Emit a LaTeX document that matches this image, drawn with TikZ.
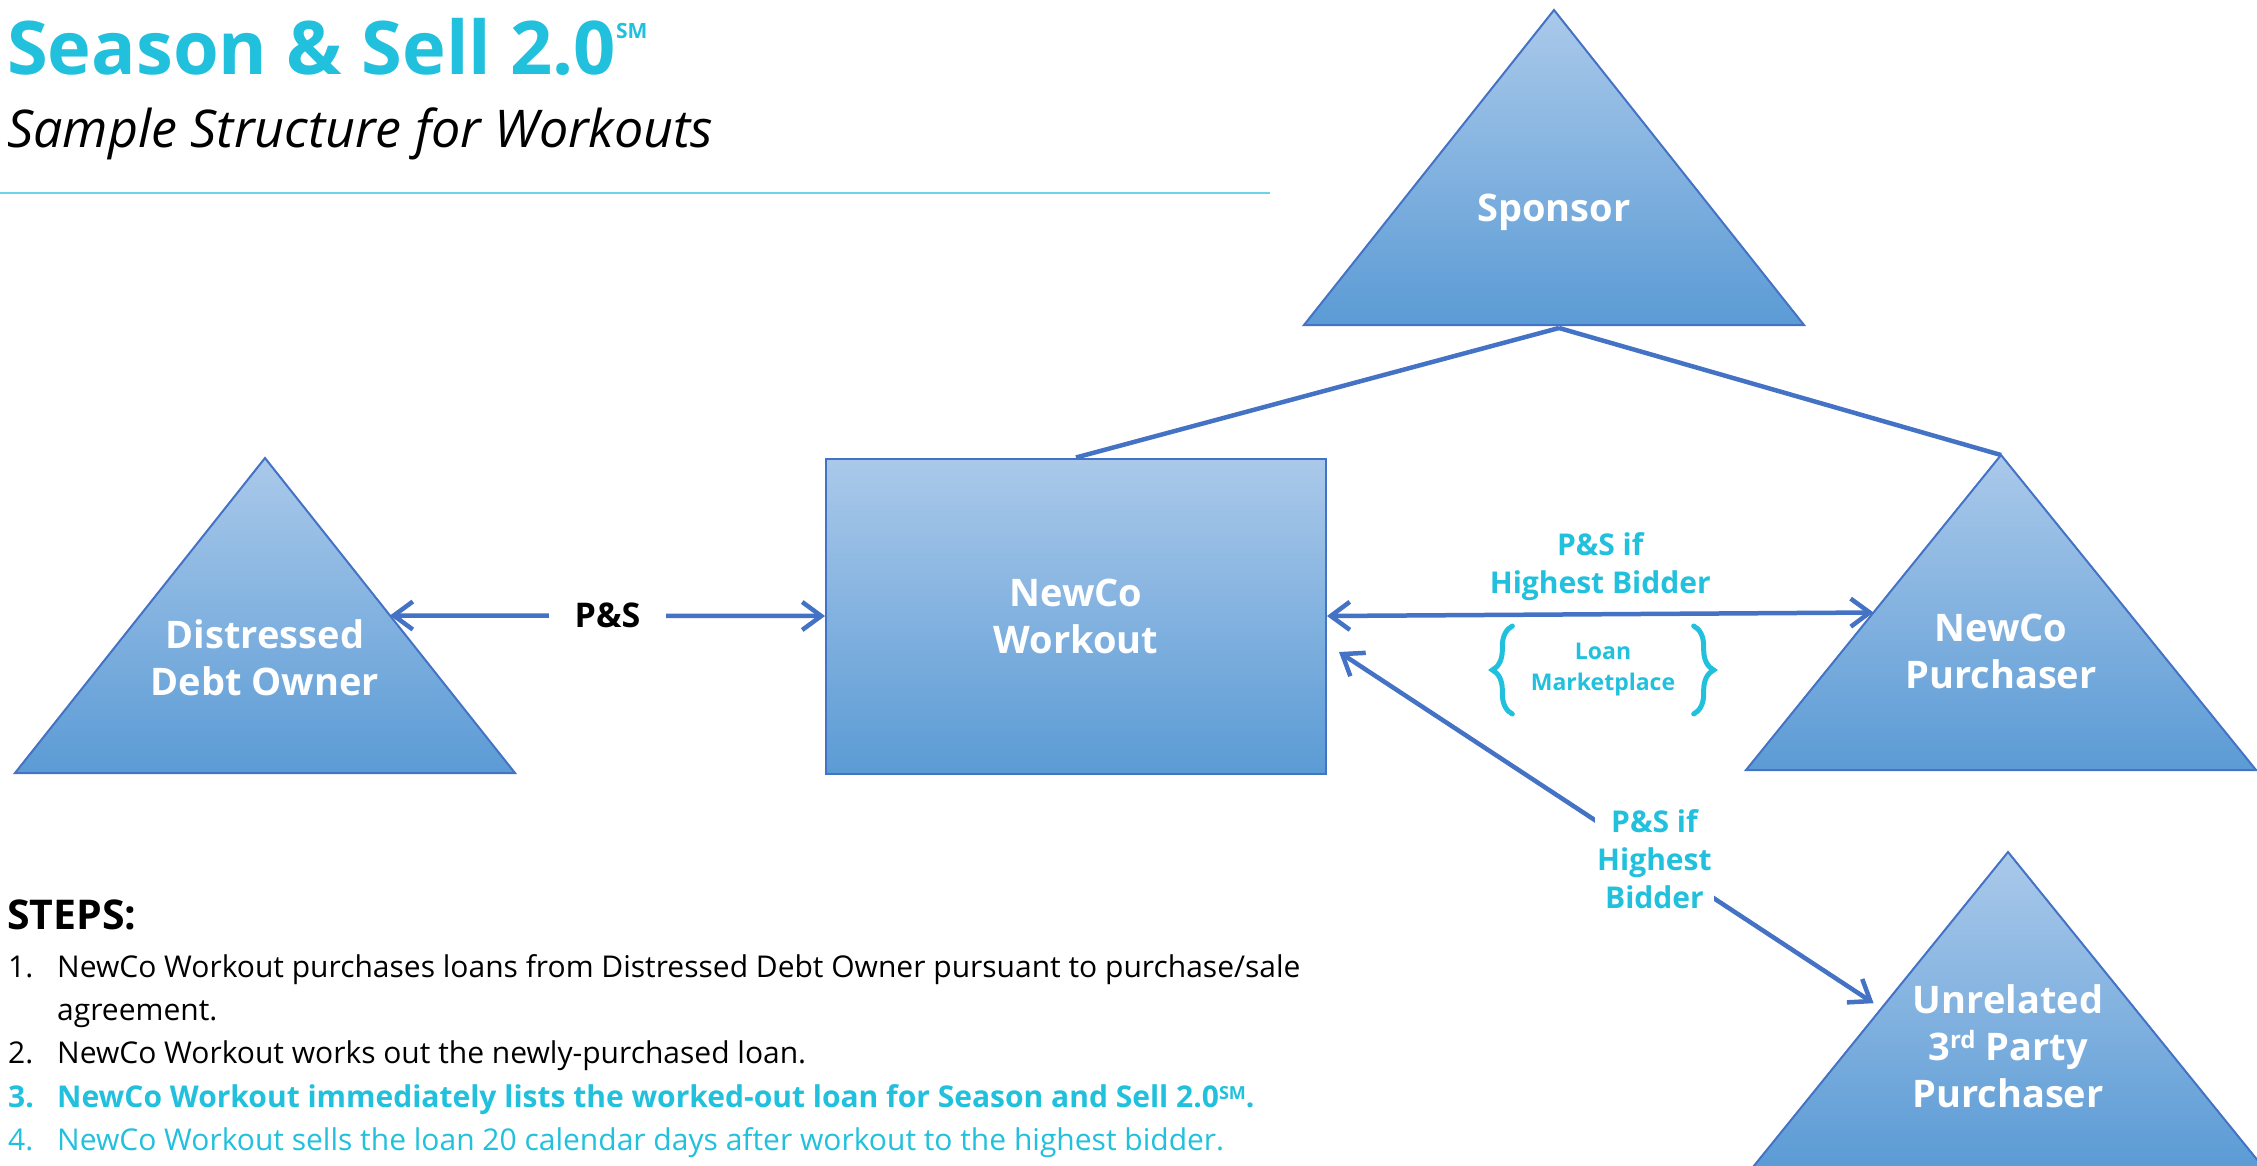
\documentclass[tikz,border=0pt]{standalone}
\usepackage{fontspec}
\setmainfont{Open Sans}
\usepackage{tikz}
\usetikzlibrary{calc, positioning, arrows.meta, decorations.pathreplacing}

\definecolor{ssCyan}{RGB}{33,192,220}
\definecolor{ssRule}{RGB}{110,210,232}
\definecolor{ssLine}{RGB}{68,114,196}
\definecolor{ssTop}{RGB}{170,201,234}
\definecolor{ssBot}{RGB}{91,155,213}

\tikzset{
    shapefill/.style={draw=ssLine, line width=2pt, top color=ssTop, bottom color=ssBot},
    block/.style={rectangle, shapefill, minimum width=500pt, minimum height=315pt},
    party/.style={text=white, font=\fontsize{38}{47}\selectfont\bfseries, align=center},
    link/.style={draw=ssLine, line width=4.5pt},
    arrow/.style={link, {Straight Barb[length=19pt,width=28pt]}-{Straight Barb[length=19pt,width=28pt]}},
    pslabel/.style={font=\fontsize{30}{38}\selectfont\bfseries, align=center},
    mbrace/.style={draw=ssCyan, line width=5pt, line cap=round, decorate, decoration={brace, amplitude=20pt}},
    steptext/.style={anchor=base west, inner sep=0pt, font=\fontsize{30}{36}\selectfont}
}

\begin{document}
\begin{tikzpicture}[x=1pt, y=-1pt]
    \useasboundingbox (0,0) rectangle (2257,1165);

    % Title
    \node[anchor=base west, inner sep=0pt, text=ssCyan, font=\fontsize{74}{80}\selectfont\bfseries] (title) at (7,74)
        {Season \& Sell 2.0\raisebox{36pt}{\fontsize{21}{21}\selectfont SM}};
    \node[anchor=base west, inner sep=0pt, font=\fontsize{52}{58}\selectfont\itshape] (subtitle) at (7,147)
        {Sample Structure for Workouts};
    \draw[ssRule, line width=2pt] (0,193) -- (1270,193);

    % Parties
    \path[shapefill] (1554,10) coordinate (spon-apex) -- (1804,325) coordinate (spon-br)
        -- (1304,325) coordinate (spon-bl) -- cycle;
    \node[party] (spon) at (1554,212) {Sponsor};

    \path[shapefill] (265,458) coordinate (ddo-apex) -- (515,773) coordinate (ddo-br)
        -- (15,773) coordinate (ddo-bl) -- cycle;
    \node[party] (ddo) at (265,658) {Distressed\\Debt Owner};

    \node[block, party] (nw) at (1076,616) {NewCo\\Workout};

    \path[shapefill] (2001,455) coordinate (npu-apex) -- (2256,770) coordinate (npu-br)
        -- (1746,770) coordinate (npu-bl) -- cycle;
    \node[party] (npu) at (2001,651) {NewCo\\Purchaser};

    \path[shapefill] (2008,852) coordinate (utp-apex) -- (2263,1167) coordinate (utp-br)
        -- (1753,1167) coordinate (utp-bl) -- cycle;
    \node[party] (utp) at (2008,1046)
        {Unrelated\\3\raisebox{12pt}{\fontsize{24}{24}\selectfont rd} Party\\Purchaser};

    % Edges
    \coordinate (spon-base) at ($(spon-bl)!0.5!(spon-br)+(5,3)$);
    \draw[link] (spon-base) -- (nw.north);
    \draw[link] (spon-base) -- (npu-apex);

    \draw[arrow] ($(ddo-apex)!0.5!(ddo-br)$) -- node[pslabel, font=\fontsize{34}{38}\selectfont\bfseries, fill=white, inner xsep=26pt] (ps) {P\&S} (nw.west);

    \draw[arrow] (nw.east) -- node[pslabel, text=ssCyan, above=8pt] (psbid) {P\&S if\\Highest Bidder}
        ($(npu-apex)!0.5!(npu-bl)$);

    \coordinate (nw-side) at ($(nw.east)+(12,36)$);
    \coordinate (utp-side) at ($(utp-apex)!0.48!(utp-bl)+(-12,0)$);
    \draw[arrow] (nw-side) -- node[pos=0.59, pslabel, text=ssCyan, fill=white, inner sep=2pt] (psdiag)
        {P\&S if\\Highest\\Bidder} (utp-side);

    % Loan marketplace
    \node[font=\fontsize{23}{31}\selectfont\bfseries, text=ssCyan, align=center] (market) at (1603,670) {Loan\\Marketplace};
    \draw[mbrace] ($(market.west)+(-15,44)$) -- ($(market.west)+(-15,-44)$);
    \draw[mbrace] ($(market.east)+(15,-44)$) -- ($(market.east)+(15,44)$);

    % Steps
    \node[steptext, font=\fontsize{41}{44}\selectfont\bfseries] (steps) at (7,929) {STEPS:};
    \node[steptext] (s1) at (8,977)
        {\makebox[49pt][l]{1.}NewCo Workout purchases loans from Distressed Debt Owner pursuant to purchase/sale};
    \node[steptext] (s1b) at (57,1020) {agreement.};
    \node[steptext] (s2) at (8,1063) {\makebox[49pt][l]{2.}NewCo Workout works out the newly-purchased loan.};
    \node[steptext, text=ssCyan, font=\fontsize{30}{36}\selectfont\bfseries] (s3) at (8,1107)
        {\makebox[49pt][l]{3.}NewCo Workout immediately lists the worked-out loan for Season and Sell 2.0\raisebox{8pt}{\fontsize{18}{18}\selectfont SM}.};
    \node[steptext, text=ssCyan] (s4) at (8,1150)
        {\makebox[49pt][l]{4.}NewCo Workout sells the loan 20 calendar days after workout to the highest bidder.};

\end{tikzpicture}
\end{document}
